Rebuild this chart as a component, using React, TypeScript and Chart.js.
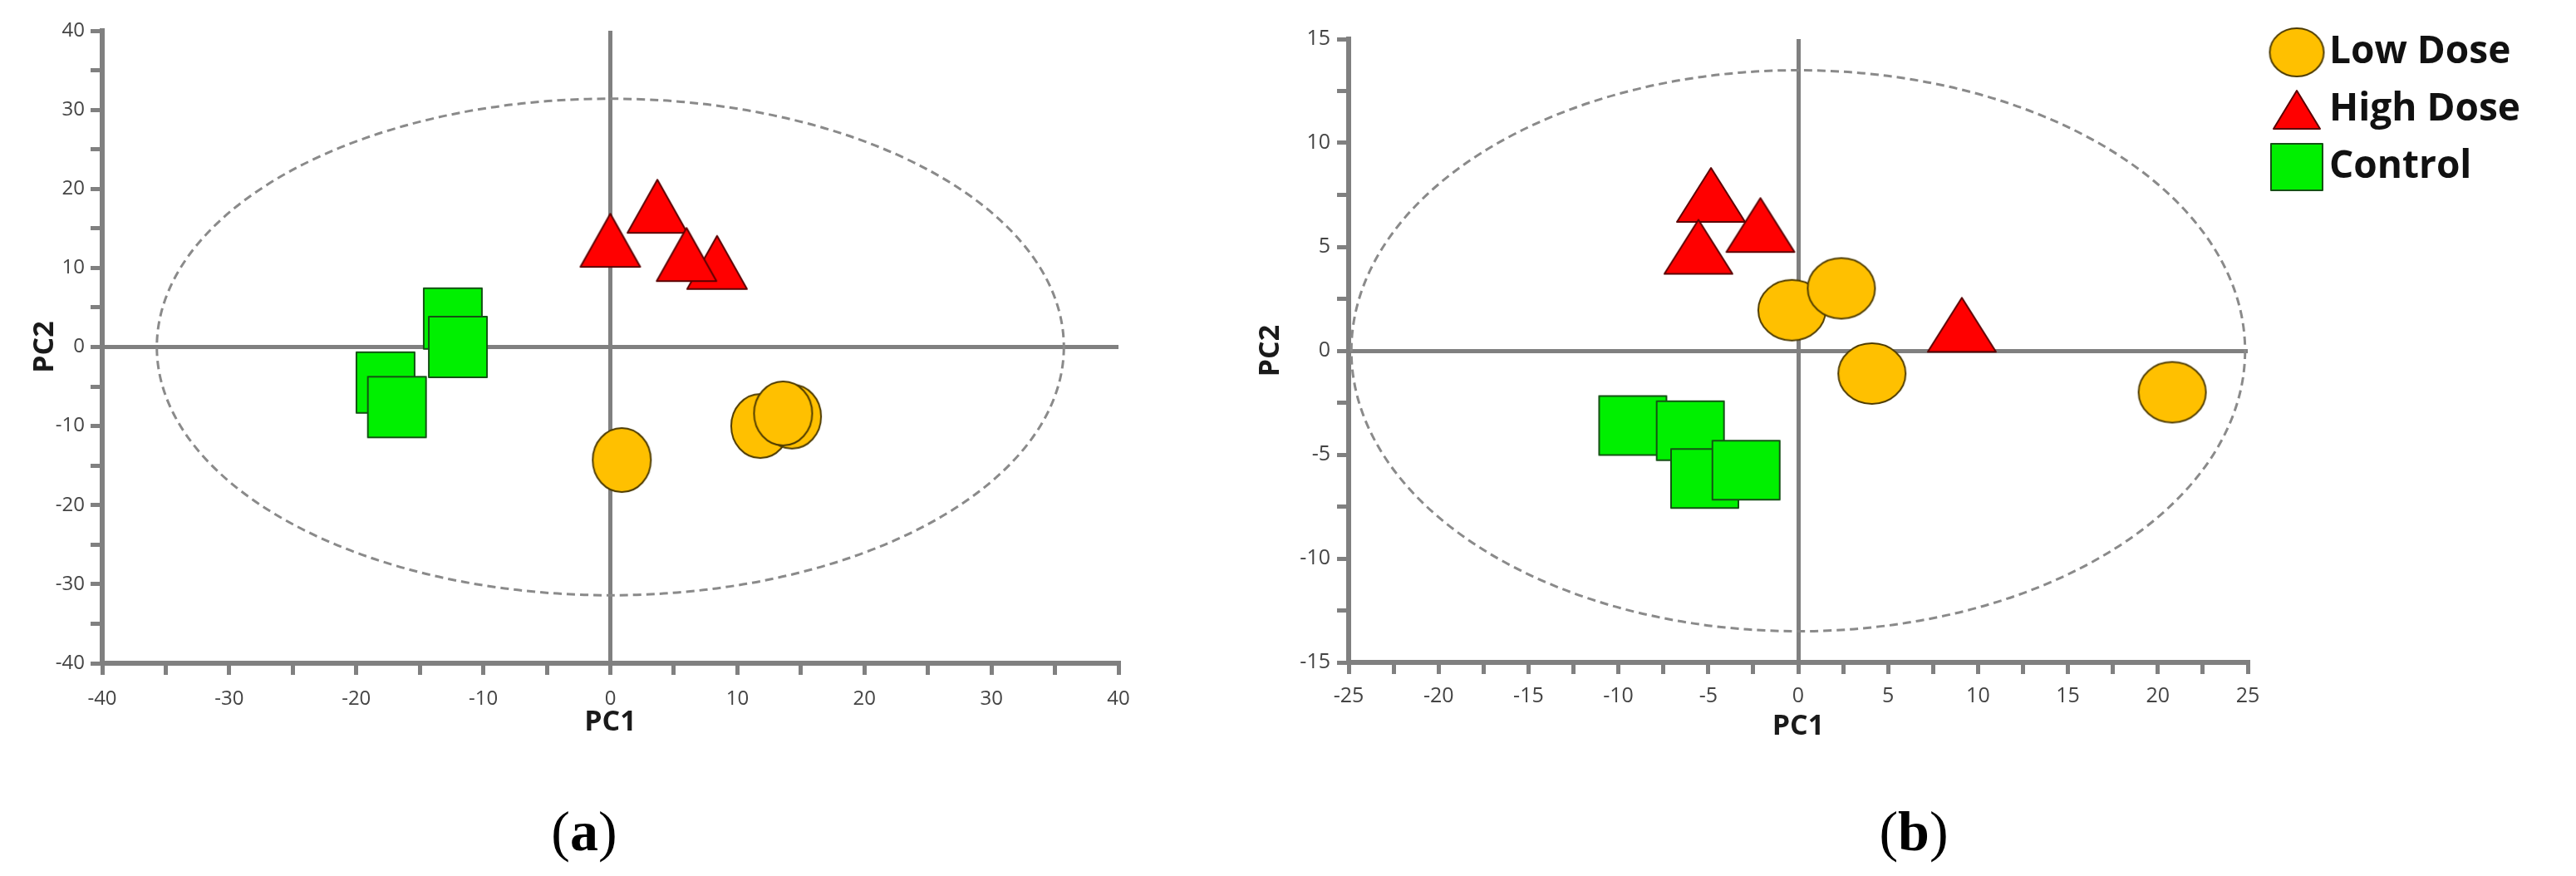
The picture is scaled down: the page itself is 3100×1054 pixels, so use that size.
import React, { useEffect, useRef } from 'react';
import { Chart, registerables } from 'chart.js';

Chart.register(...registerables);

// ---------- data ----------
const GROUPS = ['Low Dose', 'High Dose', 'Control'];

// panel (a)
const A_LOW_X = [0.9, 11.8, 14.3, 13.6];
const A_LOW_Y = [-14.3, -10.0, -8.8, -8.4];
const A_HIGH_X = [0.0, 3.7, 8.4, 6.0];
const A_HIGH_Y = [13.5, 17.8, 10.7, 11.7];
const A_CTRL_X = [-12.4, -12.0, -17.7, -16.8];
const A_CTRL_Y = [3.6, 0.0, -4.5, -7.6];
const A_X_TICKS = [-40, -35, -30, -25, -20, -15, -10, -5, 0, 5, 10, 15, 20, 25, 30, 35, 40];
const A_X_LABELS = [-40, -30, -20, -10, 0, 10, 20, 30, 40];
const A_Y_TICKS = [-40, -35, -30, -25, -20, -15, -10, -5, 0, 5, 10, 15, 20, 25, 30, 35, 40];
const A_Y_LABELS = [-40, -30, -20, -10, 0, 10, 20, 30, 40];
const A_ELLIPSE = { cx: 0, cy: 0, rx: 35.7, ry: 31.4 };

// panel (b)
const B_LOW_X = [-0.35, 2.4, 4.1, 20.8];
const B_LOW_Y = [1.95, 3.0, -1.1, -2.0];
const B_HIGH_X = [-4.85, -2.1, -5.55, 9.1];
const B_HIGH_Y = [7.5, 6.05, 5.0, 1.25];
const B_CTRL_X = [-9.2, -6.0, -5.2, -2.9];
const B_CTRL_Y = [-3.6, -3.85, -6.15, -5.75];
const B_X_TICKS = [-25, -22.5, -20, -17.5, -15, -12.5, -10, -7.5, -5, -2.5, 0, 2.5, 5, 7.5, 10, 12.5, 15, 17.5, 20, 22.5, 25];
const B_X_LABELS = [-25, -20, -15, -10, -5, 0, 5, 10, 15, 20, 25];
const B_Y_TICKS = [-15, -12.5, -10, -7.5, -5, -2.5, 0, 2.5, 5, 7.5, 10, 12.5, 15];
const B_Y_LABELS = [-15, -10, -5, 0, 5, 10, 15];
const B_ELLIPSE = { cx: 0, cy: 0, rx: 24.85, ry: 13.5 };

// ---------- styles ----------
const AXIS_GRAY = '#808080';
const FILLS = ['#FFC000', '#FF0000', '#00F000'];
const STROKES = ['#4d3b00', '#5a0000', '#145214'];
const SHAPES = ['circle', 'triangle', 'rect'];

function makeMarker(shape: string, w: number, h: number, fill: string, stroke: string, lw = 2) {
  const c = document.createElement('canvas');
  c.width = Math.ceil(w + lw * 2);
  c.height = Math.ceil(h + lw * 2);
  const ctx = c.getContext('2d')!;
  const cx = c.width / 2;
  const cy = c.height / 2;
  ctx.fillStyle = fill;
  ctx.strokeStyle = stroke;
  ctx.lineWidth = lw;
  ctx.lineJoin = 'round';
  ctx.beginPath();
  if (shape === 'circle') {
    ctx.ellipse(cx, cy, w / 2, h / 2, 0, 0, Math.PI * 2);
  } else if (shape === 'triangle') {
    ctx.moveTo(cx, cy - h / 2);
    ctx.lineTo(cx + w / 2, cy + h / 2);
    ctx.lineTo(cx - w / 2, cy + h / 2);
    ctx.closePath();
  } else {
    ctx.rect(cx - w / 2, cy - h / 2, w, h);
  }
  ctx.fill();
  ctx.stroke();
  return c;
}

const ellipsePlugin = {
  id: 'pcaEllipse',
  beforeDatasetsDraw(chart: any, _args: any, opts: any) {
    const { ctx, scales } = chart;
    const x = scales.x;
    const y = scales.y;
    const cx = x.getPixelForValue(opts.cx);
    const cy = y.getPixelForValue(opts.cy);
    const rx = Math.abs(x.getPixelForValue(opts.cx + opts.rx) - cx);
    const ry = Math.abs(y.getPixelForValue(opts.cy + opts.ry) - cy);
    ctx.save();
    ctx.setLineDash([10, 6]);
    ctx.lineWidth = 3;
    ctx.strokeStyle = '#8a8a8a';
    ctx.beginPath();
    ctx.ellipse(cx, cy, rx, ry, 0, 0, Math.PI * 2);
    ctx.stroke();
    ctx.restore();
  },
};

type PanelSpec = {
  left: number;
  width: number;
  height: number;
  xRange: [number, number];
  yRange: [number, number];
  xTicks: number[];
  xLabels: number[];
  yTicks: number[];
  yLabels: number[];
  xs: number[][];
  ys: number[][];
  sizes: [number, number][];
  ellipse: { cx: number; cy: number; rx: number; ry: number };
  padding: { top: number; right: number; bottom: number; left: number };
  yAxisWidth: number;
  yPadTop: number;
  xAxisHeight: number;
  xPadRight: number;
  tickFont: number;
  xTickPad: number;
  yTickPad: number;
  xTitlePad: number;
  yTitlePad: number;
  legend: boolean;
};

const LEGEND_SIZES: [number, number][] = [[65, 58], [56, 46], [62, 56]];
const LEGEND_FONT = 46;
const LEGEND_ROW = 69;
const LEGEND_FIRST_ROW_Y = 63;

function Panel({ spec }: { spec: PanelSpec }) {
  const ref = useRef<HTMLCanvasElement>(null);
  useEffect(() => {
    if (!ref.current) return;
    const markers = SHAPES.map((s, i) => makeMarker(s, spec.sizes[i][0], spec.sizes[i][1], FILLS[i], STROKES[i]));
    const legendMarkers = SHAPES.map((s, i) => makeMarker(s, LEGEND_SIZES[i][0], LEGEND_SIZES[i][1], FILLS[i], STROKES[i]));
    const datasets = GROUPS.map((g, i) => ({
      label: g,
      data: spec.xs[i].map((xv, j) => ({ x: xv, y: spec.ys[i][j] })),
      pointStyle: markers[i],
      pointRadius: 10,
      pointHoverRadius: 10,
      backgroundColor: FILLS[i],
      borderColor: STROKES[i],
    }));
    const tickFont = { family: "'Open Sans', sans-serif", size: spec.tickFont };
    const titleFont = { family: "'Open Sans', sans-serif", size: 34, weight: 'bold' as const };
    const grid = {
      display: true,
      drawOnChartArea: true,
      drawTicks: true,
      tickLength: 14,
      tickWidth: 5,
      tickColor: AXIS_GRAY,
      lineWidth: 5,
      color: (c: any) => (c.tick && c.tick.value === 0 ? AXIS_GRAY : 'rgba(0,0,0,0)'),
    };
    const scales: any = {
      x: {
        type: 'linear',
        position: 'bottom',
        min: spec.xRange[0],
        max: spec.xRange[1],
        afterBuildTicks: (s: any) => {
          s.ticks = spec.xTicks.map((v) => ({ value: v }));
        },
        afterFit: (s: any) => {
          s.height = spec.xAxisHeight;
          if (spec.xPadRight) s.paddingRight = spec.xPadRight;
        },
        ticks: {
          autoSkip: false,
          maxRotation: 0,
          minRotation: 0,
          padding: spec.xTickPad,
          color: '#444',
          font: tickFont,
          callback: (v: any) => (spec.xLabels.includes(Number(v)) ? String(v) : ''),
        },
        grid,
        border: { display: true, color: AXIS_GRAY, width: 6 },
        title: {
          display: true,
          text: 'PC1',
          color: '#1a1a1a',
          font: titleFont,
          padding: { top: 0, bottom: spec.xTitlePad },
        },
      },
      y: {
        type: 'linear',
        position: 'left',
        min: spec.yRange[0],
        max: spec.yRange[1],
        afterBuildTicks: (s: any) => {
          s.ticks = spec.yTicks.map((v) => ({ value: v }));
        },
        afterFit: (s: any) => {
          s.width = spec.yAxisWidth;
          if (spec.yPadTop) s.paddingTop = spec.yPadTop;
        },
        ticks: {
          autoSkip: false,
          padding: spec.yTickPad,
          color: '#444',
          font: tickFont,
          callback: (v: any) => (spec.yLabels.includes(Number(v)) ? String(v) : ''),
        },
        grid,
        border: { display: true, color: AXIS_GRAY, width: 6 },
        title: {
          display: true,
          text: 'PC2',
          color: '#1a1a1a',
          font: titleFont,
          padding: { top: spec.yTitlePad, bottom: 0 },
        },
      },
    };
    if (spec.legend) {
      // empty spacer between the plot area and the legend
      scales.legendGap = {
        type: 'linear',
        position: 'right',
        display: true,
        min: 0,
        max: 1,
        ticks: { display: false },
        grid: { display: false },
        border: { display: false },
        title: { display: false },
        afterFit: (s: any) => {
          s.width = 22 - (LEGEND_ROW - LEGEND_FONT - 21);
        },
      };
    }
    const chart = new Chart(ref.current, {
      type: 'scatter',
      data: { datasets },
      plugins: [ellipsePlugin],
      options: {
        responsive: false,
        animation: false,
        events: [],
        layout: { padding: spec.padding },
        scales,
        plugins: {
          tooltip: { enabled: false },
          pcaEllipse: spec.ellipse,
          legend: spec.legend
            ? {
                display: true,
                position: 'right',
                align: 'start',
                maxWidth: 370,
                labels: {
                  usePointStyle: true,
                  boxWidth: 32,
                  padding: LEGEND_ROW - LEGEND_FONT,
                  color: '#111',
                  font: { family: "'Open Sans', sans-serif", size: LEGEND_FONT, weight: 'bold' },
                  generateLabels: (ch: any) =>
                    ch.data.datasets.map((ds: any, i: number) => ({
                      text: ds.label,
                      pointStyle: legendMarkers[i],
                      fillStyle: FILLS[i],
                      strokeStyle: STROKES[i],
                      lineWidth: 0,
                      hidden: false,
                      datasetIndex: i,
                      fontColor: '#111',
                    })),
                },
              }
            : { display: false },
        },
      } as any,
    });
    return () => chart.destroy();
  }, [spec]);
  return (
    <canvas
      ref={ref}
      width={spec.width}
      height={spec.height}
      style={{ position: 'absolute', left: spec.left, top: 0, width: spec.width, height: spec.height }}
    />
  );
}

const SPEC_A: PanelSpec = {
  left: 0,
  width: 1400,
  height: 920,
  xRange: [-40, 40],
  yRange: [-40, 40],
  xTicks: A_X_TICKS,
  xLabels: A_X_LABELS,
  yTicks: A_Y_TICKS,
  yLabels: A_Y_LABELS,
  xs: [A_LOW_X, A_HIGH_X, A_CTRL_X],
  ys: [A_LOW_Y, A_HIGH_Y, A_CTRL_Y],
  sizes: [[70, 77], [72, 64], [70, 73]],
  ellipse: A_ELLIPSE,
  padding: { top: 37, right: 54, bottom: 0, left: 0 },
  yAxisWidth: 123,
  yPadTop: 0,
  xAxisHeight: 122,
  xPadRight: 0,
  tickFont: 24,
  xTickPad: 15,
  yTickPad: 7,
  xTitlePad: 30,
  yTitlePad: 34,
  legend: false,
};

const SPEC_B: PanelSpec = {
  left: 1460,
  width: 1640,
  height: 920,
  xRange: [-25, 25],
  yRange: [-15, 15],
  xTicks: B_X_TICKS,
  xLabels: B_X_LABELS,
  yTicks: B_Y_TICKS,
  yLabels: B_Y_LABELS,
  xs: [B_LOW_X, B_HIGH_X, B_CTRL_X],
  ys: [B_LOW_Y, B_HIGH_Y, B_CTRL_Y],
  sizes: [[81, 73], [82, 65], [81, 71]],
  ellipse: B_ELLIPSE,
  padding: { top: LEGEND_FIRST_ROW_Y - (LEGEND_ROW - LEGEND_FONT) - LEGEND_FONT / 2, right: 0, bottom: 0, left: 0 },
  yAxisWidth: 163,
  yPadTop: 47,
  xAxisHeight: 123,
  xPadRight: 395,
  tickFont: 25,
  xTickPad: 12,
  yTickPad: 8,
  xTitlePad: 25,
  yTitlePad: 49,
  legend: true,
};

function Caption({ letter, cx }: { letter: string; cx: number }) {
  return (
    <div
      style={{
        position: 'absolute',
        left: cx - 150,
        top: 955,
        width: 300,
        textAlign: 'center',
        fontFamily: "'Liberation Serif', 'DejaVu Serif', serif",
        fontSize: 68,
        lineHeight: '90px',
        color: '#000',
      }}
    >
      (<b>{letter}</b>)
    </div>
  );
}

export default function App() {
  return (
    <div
      style={{
        position: 'absolute',
        left: 0,
        top: 0,
        width: 3100,
        height: 1054,
        background: '#fff',
        overflow: 'hidden',
      }}
    >
      <Panel spec={SPEC_A} />
      <Panel spec={SPEC_B} />
      <Caption letter="a" cx={703} />
      <Caption letter="b" cx={2303} />
    </div>
  );
}
